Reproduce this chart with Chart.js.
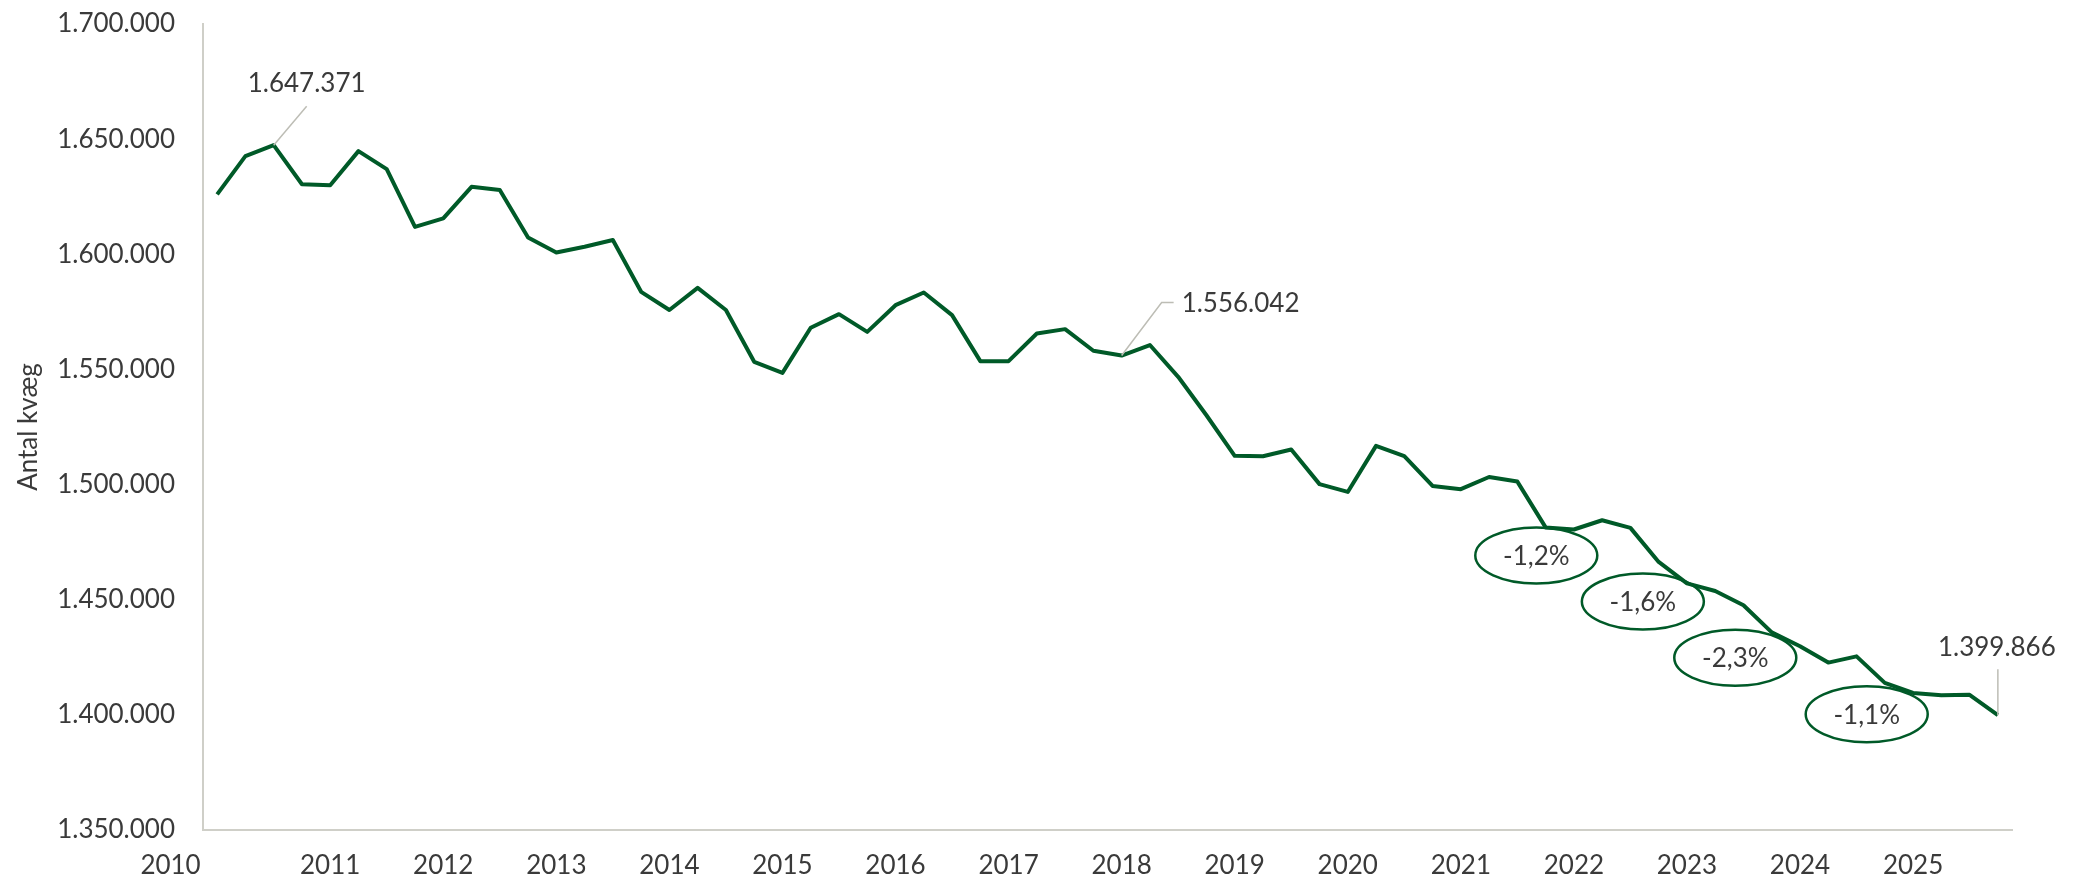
<!DOCTYPE html>
<html lang="da">
<head>
<meta charset="utf-8">
<title>Antal kvæg</title>
<script src="https://cdn.jsdelivr.net/npm/chart.js@4/dist/chart.umd.min.js"></script>
<style>
    html, body { margin: 0; background: #ffffff; }
    #wrap { width: 2073px; height: 881px; position: relative; }
</style>
</head>
<body>
<div id="wrap"><canvas id="kvaeg"></canvas></div>
<script>
// kvartaler 2010K1 - 2025K4
const years = ['2010', '2011', '2012', '2013', '2014', '2015', '2016', '2017',
               '2018', '2019', '2020', '2021', '2022', '2023', '2024', '2025'];
const quarterNames = ['K1', 'K2', 'K3', 'K4'];

const antalKvaeg = [
    1626000, 1642600, 1647371, 1630400,
    1630000, 1644800, 1637000, 1611900,
    1615600, 1629300, 1627900, 1607300,
    1600800, 1603300, 1606200, 1583700,
    1575800, 1585400, 1575800, 1553300,
    1548500, 1568100, 1574000, 1566300,
    1577900, 1583400, 1573600, 1553600,
    1553600, 1565600, 1567500, 1558100,
    1556042, 1560600, 1546800, 1530100,
    1512500, 1512300, 1515200, 1500200,
    1496800, 1516800, 1512300, 1499400,
    1498000, 1503300, 1501300, 1481400,
    1480500, 1484500, 1481200, 1466400,
    1457100, 1453800, 1447600, 1435800,
    1429800, 1422700, 1425400, 1413900,
    1409500, 1408500, 1408700, 1399866
];

const yMin = 1350000;
const yMax = 1700000;
const yStep = 50000;

// markerede punkter (index i antalKvaeg)
const valueCallouts = [2, 32, 63];

// aarlige fald
const changeLabels = ['-1,2%', '-1,6%', '-2,3%', '-1,1%'];
const changeAnchorX = [46.67, 50.44, 53.71, 58.36];
const changeAnchorY = [1469200, 1449200, 1424800, 1400260];

const labels = years.flatMap(y => quarterNames.map(q => y + q));

const green = '#005a28';
const textColor = '#3a3a3a';
const axisColor = '#cfcfc8';
const fontFamily = 'Lato, "Open Sans", sans-serif';

function fmt(v) {
    return String(Math.round(v)).replace(/\B(?=(\d{3})+(?!\d))/g, '.');
}

// leader lines and text offsets in pixels, relative to the point
const calloutStyle = {
    2:  { path: [[0, 0], [33, -39]], text: [33, -62], align: 'center' },
    32: { path: [[0, 0], [40, -53], [52, -53]], text: [60, -52], align: 'left' },
    63: { path: [[0, -46], [0, 0]], text: [-1, -68], align: 'center' }
};

const annotations = {
    id: 'annotations',
    afterDatasetsDraw(chart) {
        const ctx = chart.ctx;
        const x = chart.scales.x;
        const y = chart.scales.y;

        ctx.save();
        ctx.font = '26px ' + fontFamily;
        ctx.textBaseline = 'middle';

        valueCallouts.forEach(i => {
            const s = calloutStyle[i];
            const px = x.getPixelForValue(i);
            const py = y.getPixelForValue(antalKvaeg[i]);

            ctx.strokeStyle = '#bdbdb5';
            ctx.lineWidth = 1.5;
            ctx.beginPath();
            s.path.forEach((p, k) => {
                if (k === 0) ctx.moveTo(px + p[0], py + p[1]);
                else ctx.lineTo(px + p[0], py + p[1]);
            });
            ctx.stroke();

            ctx.fillStyle = textColor;
            ctx.textAlign = s.align;
            ctx.fillText(fmt(antalKvaeg[i]), px + s.text[0], py + s.text[1]);
        });

        changeLabels.forEach((txt, k) => {
            const cx = x.getPixelForValue(changeAnchorX[k]);
            const cy = y.getPixelForValue(changeAnchorY[k]);

            ctx.strokeStyle = green;
            ctx.lineWidth = 2.5;
            ctx.beginPath();
            ctx.ellipse(cx, cy, 61, 28, 0, 0, Math.PI * 2);
            ctx.stroke();

            ctx.fillStyle = textColor;
            ctx.textAlign = 'center';
            ctx.fillText(txt, cx, cy + 1);
        });

        ctx.restore();
    }
};

new Chart(document.getElementById('kvaeg'), {
    type: 'line',

    data: {
        labels: labels,
        datasets: [{
            label: 'Antal kvæg',
            data: antalKvaeg,
            borderColor: green,
            borderWidth: 4,
            borderJoinStyle: 'round',
            pointRadius: 0,
            tension: 0,
            fill: false
        }]
    },

    options: {
        responsive: true,
        maintainAspectRatio: false,
        animation: false,
        layout: {
            padding: { top: 24, right: 61, bottom: 0, left: 0 }
        },
        plugins: {
            legend: { display: false },
            tooltip: { enabled: false }
        },
        scales: {
            x: {
                offset: true,
                grid: { display: false, drawTicks: false },
                border: { display: true, color: axisColor, width: 2 },
                ticks: {
                    autoSkip: false,
                    maxRotation: 0,
                    padding: 20,
                    color: textColor,
                    font: { family: fontFamily, size: 26 },
                    callback: function (value, index) {
                        if (index % 4 !== 0) return '';
                        // first label sits a bit left of its point, as in the original
                        return index === 0 ? years[0] + '\u00a0'.repeat(14) : years[index / 4];
                    }
                },
                afterFit(scale) {
                    scale.height = 51;
                    scale.paddingLeft = 0;
                    scale.paddingRight = 0;
                }
            },
            y: {
                min: yMin,
                max: yMax,
                grid: { display: false, drawTicks: false },
                border: { display: true, color: axisColor, width: 2 },
                ticks: {
                    stepSize: yStep,
                    padding: 28,
                    color: textColor,
                    font: { family: fontFamily, size: 26 },
                    callback: v => fmt(v)
                },
                title: {
                    display: true,
                    text: 'Antal kvæg',
                    color: textColor,
                    font: { family: fontFamily, size: 26 },
                    padding: { top: 13, bottom: 0 }
                },
                afterFit(scale) {
                    scale.width = 203;
                    scale.paddingTop = 0;
                    scale.paddingBottom = 0;
                }
            }
        }
    },

    plugins: [annotations]
});
</script>
</body>
</html>
